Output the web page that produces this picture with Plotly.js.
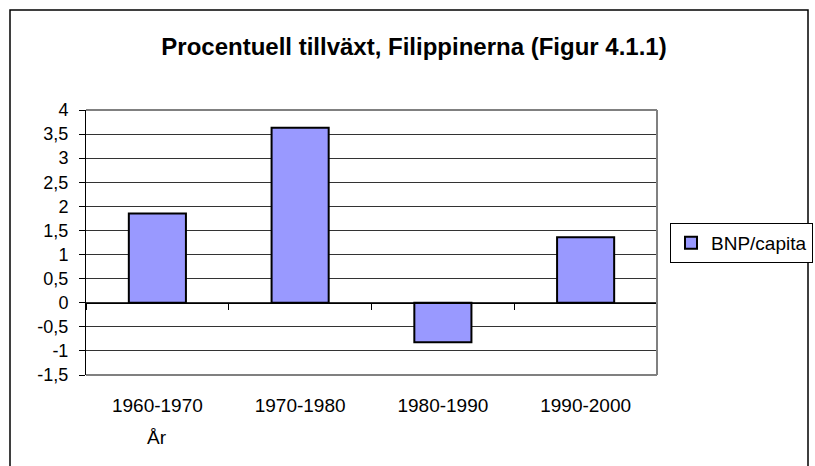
<!DOCTYPE html>
<html>
<head>
<meta charset="utf-8">
<script src="https://cdn.plot.ly/plotly-3.0.1.min.js"></script>
<style>html,body{margin:0;padding:0;background:#fff;}#chart{width:815px;height:466px;}</style>
</head>
<body>
<div id="chart"></div>
<script>
// Data
const categories = ["1960-1970", "1970-1980", "1980-1990", "1990-2000"];
const bnpPerCapita = [1.85, 3.63, -0.82, 1.36];
const seriesName = "BNP/capita";
const yTickVals = [-1.5, -1, -0.5, 0, 0.5, 1, 1.5, 2, 2.5, 3, 3.5, 4];
const yTickText = ["-1,5", "-1", "-0,5", "0", "0,5", "1", "1,5", "2", "2,5", "3", "3,5", "4"];
const titleText = "Procentuell tillväxt, Filippinerna (Figur 4.1.1)";
const xTitleText = "År";

const FONT = "Liberation Sans, Arial, sans-serif";

const traces = [{
  type: "bar",
  x: categories,
  y: bnpPerCapita,
  name: seriesName,
  marker: {color: "#9999FF", line: {color: "#000000", width: 2}},
  hoverinfo: "x+y"
}];

// plot area: x 86..657, y 110..375
const L = 86, R = 657, T = 110, B = 375, W = 815, H = 466;
const px = v => (v - L) / (R - L);
const py = v => (B - v) / (B - T);

const layout = {
  width: W, height: H,
  margin: {l: L, r: W - R, t: T, b: H - B, pad: 0, autoexpand: false},
  paper_bgcolor: "#ffffff",
  plot_bgcolor: "#ffffff",
  font: {family: FONT, color: "#000000", size: 17},
  separators: ",.",
  showlegend: true,
  bargap: 0.6,
  title: {
    text: "<b>" + titleText + "</b>",
    font: {family: FONT, size: 24, color: "#000000"},
    x: 414 / W, xanchor: "center", xref: "container",
    y: 1 - 47 / H, yanchor: "middle", yref: "container"
  },
  xaxis: {
    type: "category",
    range: [-0.5, 3.5],
    showline: false,
    showgrid: false,
    zeroline: false,
    ticks: "",
    ticklabelstandoff: 17,
    tickfont: {family: FONT, size: 19, color: "#000000"},
    fixedrange: true
  },
  xaxis2: {
    overlaying: "x",
    anchor: "free",
    position: py(302.7),
    range: [-0.5, 3.5],
    tickvals: [-0.5, 0.5, 1.5, 2.5, 3.5],
    ticks: "outside",
    ticklen: 6,
    tickwidth: 1,
    tickcolor: "#000000",
    showticklabels: false,
    showline: true,
    linecolor: "#000000",
    linewidth: 1,
    showgrid: false,
    zeroline: false
  },
  yaxis: {
    range: [-1.5, 4],
    tickvals: yTickVals,
    ticktext: yTickText,
    ticks: "outside",
    ticklen: 6,
    tickcolor: "#000000",
    tickwidth: 1,
    showline: true,
    linecolor: "#000000",
    linewidth: 1,
    showgrid: true,
    gridcolor: "#333333",
    gridwidth: 1,
    zeroline: false,
    ticklabelstandoff: 7,
    tickfont: {family: FONT, size: 18, color: "#000000"},
    fixedrange: true
  },
  legend: {
    x: px(670), xanchor: "left",
    y: py(243), yanchor: "middle",
    bgcolor: "#ffffff",
    bordercolor: "#000000",
    borderwidth: 1,
    font: {family: FONT, size: 19, color: "#000000"},
    itemwidth: 30,
    tracegroupgap: 0
  },
  shapes: [
    // plot-area frame (top, right, bottom) in grey
    {type: "line", xref: "paper", yref: "paper", x0: 0, x1: 1, y0: 1, y1: 1, line: {color: "#808080", width: 2}, layer: "above"},
    {type: "line", xref: "paper", yref: "paper", x0: 1, x1: 1, y0: 0, y1: 1, line: {color: "#808080", width: 2}, layer: "above"},
    {type: "line", xref: "paper", yref: "paper", x0: 0, x1: 1, y0: 0, y1: 0, line: {color: "#808080", width: 2}, layer: "above"},
    // outer chart border
    {type: "rect", xref: "paper", yref: "paper", x0: px(10), x1: px(808), y0: py(10), y1: py(472), line: {color: "#000000", width: 1.5}, fillcolor: "rgba(0,0,0,0)", layer: "above"}
  ],
  annotations: [{
    text: xTitleText,
    xref: "x", yref: "paper",
    x: categories[0],
    y: py(437), yanchor: "middle", xanchor: "center",
    showarrow: false,
    font: {family: FONT, size: 19, color: "#000000"}
  }]
};

// invisible helper trace so the secondary axis (tick marks on the zero line) is drawn
traces.push({
  type: "scatter", x: [0], y: [0], xaxis: "x2", yaxis: "y",
  mode: "markers", marker: {opacity: 0}, showlegend: false, hoverinfo: "skip"
});

Plotly.newPlot("chart", traces, layout, {displayModeBar: false, staticPlot: true});
</script>
</body>
</html>
